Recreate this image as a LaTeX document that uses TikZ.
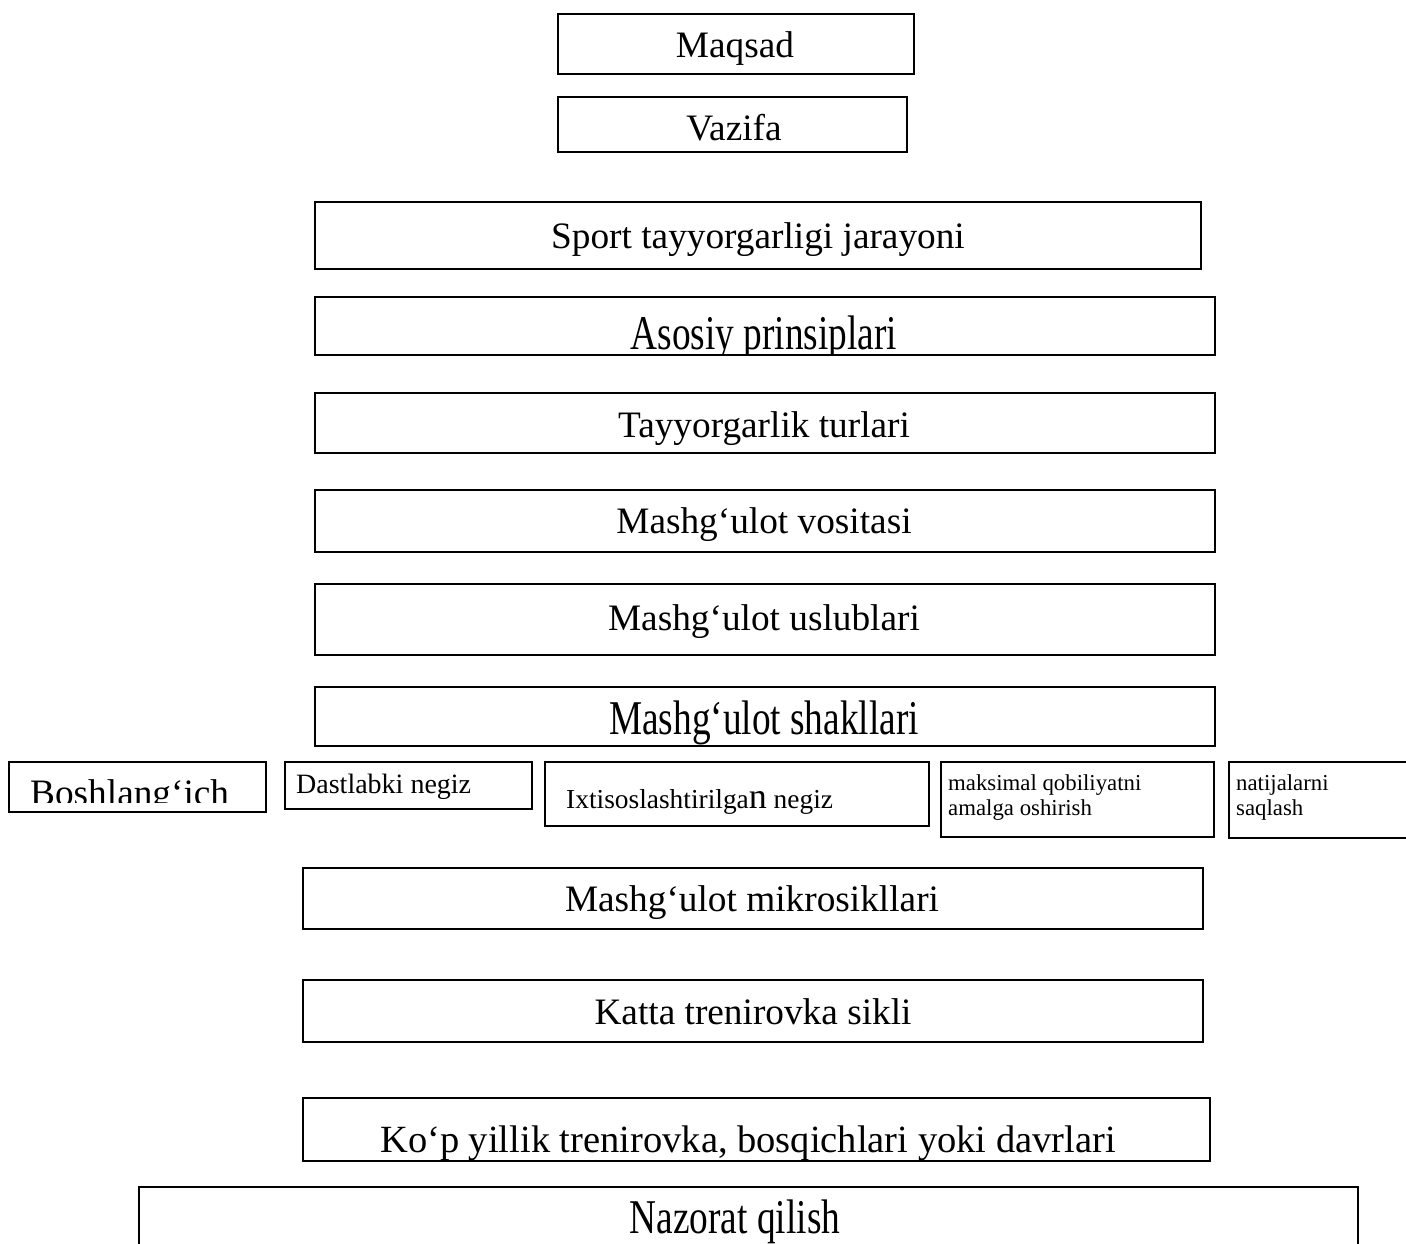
\documentclass[tikz,border=0pt]{standalone}
\usepackage{fontspec}
\setmainfont{Liberation Serif}
\usetikzlibrary{positioning}
\tikzset{
  blk/.style={draw,rectangle,line width=1.5pt,inner sep=0pt,anchor=north west},
  txt/.style={anchor=base,inner sep=0pt,font=\fontsize{37.3}{42}\selectfont},
  midtxt/.style={txt,anchor=base west,font=\fontsize{28}{32}\selectfont},
  smltxt/.style={txt,anchor=base west,align=left,font=\fontsize{22.8}{25}\selectfont}
}
\newcommand{\tall}[1]{\scalebox{1}[1.3]{#1}}

\begin{document}
\begin{tikzpicture}[x=1pt,y=-1pt]
  \useasboundingbox (0,0) rectangle (1406,1243);

  % column of boxes
  \node[blk,minimum width=356pt,minimum height=60pt] (maqsad) at (557,13) {};
  \node[blk,minimum width=349pt,minimum height=55pt] (vazifa) at (557,96) {};
  \node[blk,minimum width=886pt,minimum height=67pt] (jarayon) at (314,201) {};
  \node[blk,minimum width=900pt,minimum height=58pt] (prinsip) at (314,296) {};
  \node[blk,minimum width=900pt,minimum height=60pt] (turlar) at (314,392) {};
  \node[blk,minimum width=900pt,minimum height=62pt] (vosita) at (314,489) {};
  \node[blk,minimum width=900pt,minimum height=71pt] (uslub) at (314,583) {};
  \node[blk,minimum width=900pt,minimum height=59pt] (shakl) at (314,686) {};

  % row of stages
  \node[blk,minimum width=257pt,minimum height=50pt] (bosh) at (8,761) {};
  \node[blk,minimum width=247pt,minimum height=47pt] (dastlab) at (284,761) {};
  \node[blk,minimum width=384pt,minimum height=64pt] (ixtisos) at (544,761) {};
  \node[blk,minimum width=273pt,minimum height=75pt] (maksimal) at (940,761) {};
  \node[blk,minimum width=182pt,minimum height=76pt] (natija) at (1228,761) {};

  \node[blk,minimum width=900pt,minimum height=61pt] (mikro) at (302,867) {};
  \node[blk,minimum width=900pt,minimum height=62pt] (katta) at (302,979) {};
  \node[blk,minimum width=907pt,minimum height=63pt] (kop) at (302,1097) {};
  \node[blk,minimum width=1219pt,minimum height=90pt] (nazorat) at (138,1186) {};

  % texts
  \node[txt] (maqsadT) at (735,57) {Maqsad};
  \node[txt] (vazifaT) at (734,140) {Vazifa};
  \node[txt] (jarayonT) at (758,248) {Sport tayyorgarligi jarayoni};
  \begin{scope}
    \clip (prinsip.north west) rectangle (prinsip.south east);
    \node[txt] (prinsipT) at (764,349) {\tall{Asosiy prinsiplari}};
  \end{scope}
  \node[txt] (turlarT) at (764,437) {Tayyorgarlik turlari};
  \node[txt] (vositaT) at (764,533) {Mashg‘ulot vositasi};
  \node[txt] (uslubT) at (764,630) {Mashg‘ulot uslublari};
  \begin{scope}
    \clip (shakl.north west) rectangle (shakl.south east);
    \node[txt] (shaklT) at (764,734) {\tall{Mashg‘ulot shakllari}};
  \end{scope}

  \begin{scope}
    \clip (bosh.north west) rectangle ([yshift=10pt]bosh.south east);
    \node[txt,anchor=base west] (boshT) at (30,805) {Boshlang‘ich};
  \end{scope}
  \node[midtxt] (dastlabT) at (296,793) {Dastlabki negiz};
  \node[midtxt,font=\fontsize{27.4}{32}\selectfont] (ixtisosT) at (566,808) {Ixtisoslashtirilga{\fontsize{36}{40}\selectfont n} negiz};
  \node[smltxt] (maksimalT) at (948,815) {maksimal qobiliyatni\\amalga oshirish};
  \node[smltxt] (natijaT) at (1236,815) {natijalarni\\saqlash};

  \node[txt] (mikroT) at (752,911) {Mashg‘ulot mikrosikllari};
  \node[txt] (kattaT) at (753,1024) {Katta trenirovka sikli};
  \begin{scope}
    \clip (kop.north west) rectangle (kop.south east);
    \node[txt,font=\fontsize{38.5}{42}\selectfont] (kopT) at (748,1152) {Ko‘p yillik trenirovka, bosqichlari yoki davrlari};
  \end{scope}
  \node[txt] (nazoratT) at (735,1233) {\tall{Nazorat qilish}};
\end{tikzpicture}
\end{document}
